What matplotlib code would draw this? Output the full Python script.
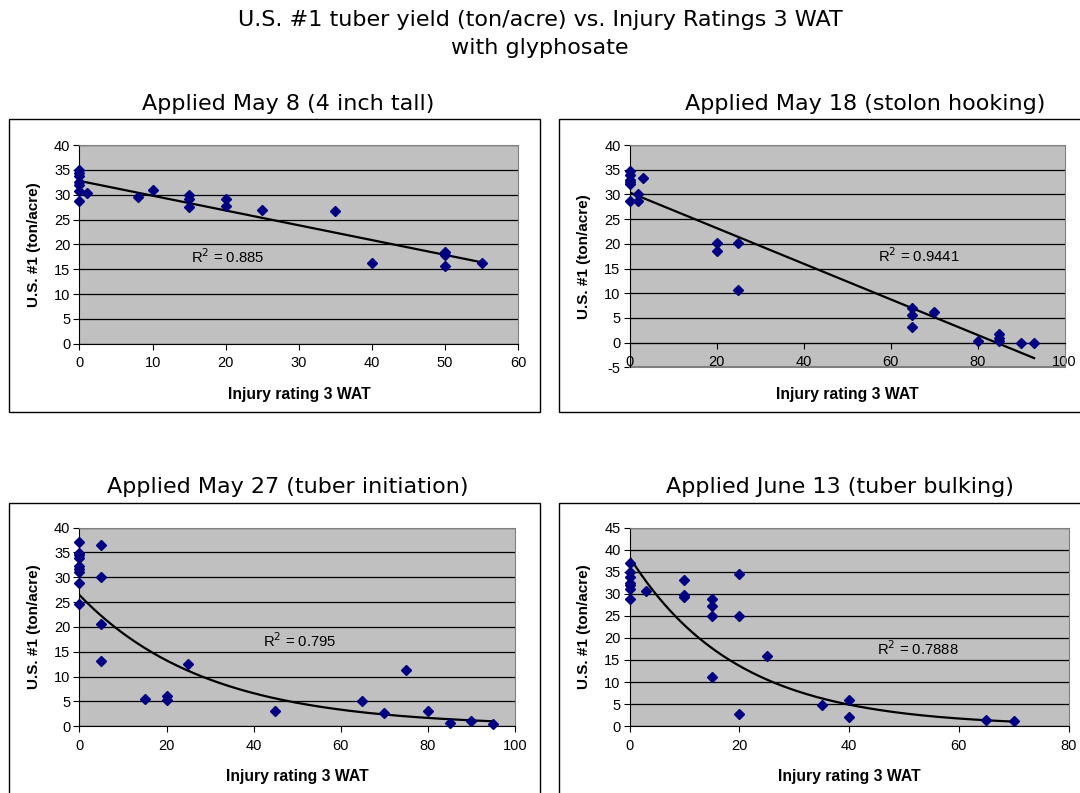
import matplotlib
matplotlib.use("Agg")
import matplotlib.pyplot as plt
from matplotlib.patches import Rectangle
import numpy as np

plt.rcParams["axes.unicode_minus"] = False

# injury rating (x) and U.S. #1 yield in ton/acre (y), per application date
may8_x = [0, 0, 0, 0, 0, 0, 0, 1, 8, 10, 15, 15, 15, 20, 20, 25, 35, 40, 50, 50, 50, 55]
may8_y = [35.0, 34.3, 33.8, 32.5, 32.0, 30.8, 28.8, 30.3, 29.5, 31.0, 29.9, 29.1, 27.6,
          29.1, 27.7, 26.9, 26.7, 16.2, 18.4, 17.9, 15.7, 16.2]

may18_x = [0, 0, 0, 0, 0, 0, 2, 2, 3, 20, 20, 25, 25, 65, 65, 65, 70, 80, 85, 85, 85, 90, 93]
may18_y = [34.8, 33.9, 33.0, 32.5, 32.1, 28.7, 30.1, 28.7, 33.4, 20.2, 18.5, 20.2, 10.7,
           7.0, 5.6, 3.1, 6.1, 0.3, 1.7, 1.0, 0.4, 0.0, 0.0]

may27_x = [0, 0, 0, 0, 0, 0, 0, 0, 0, 5, 5, 5, 5, 15, 20, 20, 25, 45, 65, 70, 75, 80, 85, 90, 95]
may27_y = [37.0, 34.9, 34.5, 33.8, 32.2, 31.7, 31.0, 28.8, 24.7, 36.5, 30.0, 20.6, 13.1,
           5.5, 6.1, 5.2, 12.6, 3.1, 5.1, 2.6, 11.4, 3.1, 0.6, 1.0, 0.5]

jun13_x = [0, 0, 0, 0, 0, 0, 0, 3, 10, 10, 10, 15, 15, 15, 15, 20, 20, 20, 25, 35, 40, 40, 65, 70]
jun13_y = [37.0, 35.0, 33.9, 32.4, 31.9, 31.1, 28.9, 30.6, 33.2, 29.7, 29.3, 28.9, 27.2,
           25.0, 11.2, 34.4, 25.0, 2.7, 15.8, 4.9, 6.0, 2.0, 1.3, 1.2]

titles = ["Applied May 8 (4 inch tall)", "Applied May 18 (stolon hooking)",
          "Applied May 27 (tuber initiation)", "Applied June 13 (tuber bulking)"]
r2_labels = ["0.885", "0.9441", "0.795", "0.7888"]
fit_kind = ["linear", "linear", "exp", "exp"]

TICK_FONT = "Liberation Sans"
TITLE_FONT = "DejaVu Sans"

fig = plt.figure(figsize=(10.8, 7.93), dpi=100)

# chart-area frames (pixels: left, top, right, bottom)
frames = [(9, 119, 540, 412), (559, 119, 1090, 412), (9, 503, 540, 800), (559, 503, 1090, 800)]
for l, t, r, b in frames:
    fig.patches.append(Rectangle((l / 1080, 1 - b / 793), (r - l) / 1080, (b - t) / 793,
                                 transform=fig.transFigure, fill=False, edgecolor="black",
                                 linewidth=1.0))

fig.text(0.5, 1 - 20 / 793, "U.S. #1 tuber yield (ton/acre) vs. Injury Ratings 3 WAT",
         ha="center", va="center", fontsize=16, family=TITLE_FONT)
fig.text(0.5, 1 - 48 / 793, "with glyphosate", ha="center", va="center",
         fontsize=16, family=TITLE_FONT)

axes_pos = [[0.0736, 0.5665, 0.4062, 0.2506],
            [0.5829, 0.5369, 0.4028, 0.2801],
            [0.0736, 0.0842, 0.4031, 0.2506],
            [0.5829, 0.0842, 0.4066, 0.2506]]
title_xy = [(288, 104), (865, 104), (288, 487), (840, 487)]
ylims = [(0, 40), (-5, 40), (0, 40), (0, 45)]
xlims = [(0, 60), (0, 100), (0, 100), (0, 80)]
xsteps = [10, 20, 20, 20]
xlabel_y = [-0.2547, -0.1225, -0.253, -0.253]
ylabel_x = [-0.1028, -0.1046, -0.1036, -0.1036]
r2_xy = [(20.3, 17.5), (66.5, 17.7), (50.5, 17.3), (52.5, 17.5)]

series = [(may8_x, may8_y), (may18_x, may18_y), (may27_x, may27_y), (jun13_x, jun13_y)]

for i, (xs, ys) in enumerate(series):
    ax = fig.add_axes(axes_pos[i])
    ax.set_facecolor("#C0C0C0")
    xs = np.array(xs, dtype=float)
    ys = np.array(ys, dtype=float)

    # trendline, same fit type as the spreadsheet
    xf = np.linspace(xs.min(), xs.max(), 200)
    if fit_kind[i] == "linear":
        m, c = np.polyfit(xs, ys, 1)
        yf = m * xf + c
    else:
        b, lna = np.polyfit(xs, np.log(ys), 1)
        yf = np.exp(lna) * np.exp(b * xf)
    ax.plot(xf, yf, color="black", linewidth=1.6, zorder=3)
    ax.plot(xs, ys, linestyle="none", marker="D", markersize=5,
            color="#000080", zorder=4, clip_on=False)

    ax.set_xlim(*xlims[i])
    ax.set_ylim(*ylims[i])
    ax.set_xticks(np.arange(xlims[i][0], xlims[i][1] + 1, xsteps[i]))
    ax.set_yticks(np.arange(ylims[i][0], ylims[i][1] + 1, 5))
    ax.yaxis.grid(True, color="black", linewidth=0.9)
    ax.set_axisbelow(True)

    for side in ["top", "right"]:
        ax.spines[side].set_color("#808080")
    ax.spines["left"].set_color("black")
    ax.spines["bottom"].set_color("black")
    if ylims[i][0] < 0:
        ax.spines["bottom"].set_position(("data", 0))
        ax.axhline(ylims[i][0], color="#808080", linewidth=1.5, clip_on=False)

    ax.tick_params(direction="out", length=4, width=0.8, colors="black", labelsize=10.5)
    ax.tick_params(axis="x", pad=5)
    ax.tick_params(axis="y", pad=2.5)
    for lab in ax.get_xticklabels() + ax.get_yticklabels():
        lab.set_family(TICK_FONT)

    ax.set_xlabel("Injury rating 3 WAT", family=TICK_FONT, fontweight="bold",
                  fontsize=11.3, va="center")
    ax.xaxis.set_label_coords(0.5, xlabel_y[i])
    ax.set_ylabel("U.S. #1 (ton/acre)", family=TICK_FONT, fontweight="bold",
                  fontsize=11, va="center")
    ax.yaxis.set_label_coords(ylabel_x[i], 0.5)

    ax.text(r2_xy[i][0], r2_xy[i][1], "R$^2$ = " + r2_labels[i], ha="center",
            va="center", fontsize=10.7, family=TICK_FONT, zorder=5)

    fig.text(title_xy[i][0] / 1080, 1 - title_xy[i][1] / 793, titles[i],
             ha="center", va="center", fontsize=16, family=TITLE_FONT)

fig.savefig("out.png", dpi=100)
